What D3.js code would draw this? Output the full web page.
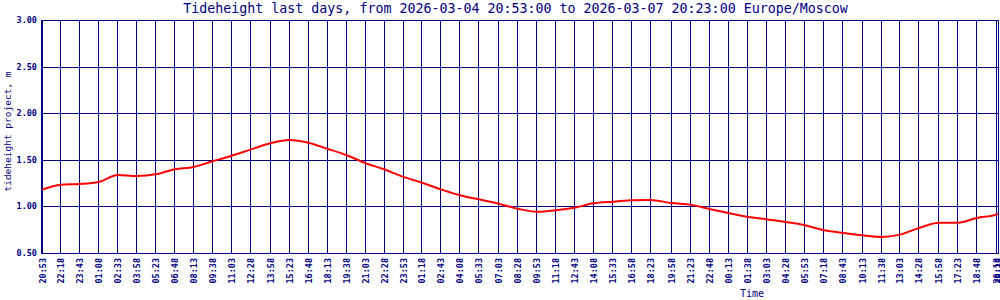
<!DOCTYPE html>
<html>
<head>
<meta charset="utf-8">
<script src="https://cdn.jsdelivr.net/npm/d3@7"></script>
<style>
  html, body { margin: 0; padding: 0; background: #fff; }
  svg { display: block; }
  text { font-family: "DejaVu Sans Mono", "Liberation Mono", monospace; fill: #000080; }
</style>
</head>
<body>
<svg id="chart" width="1000" height="300"></svg>
<script>
// ---- data ----
const titleText = "Tideheight last days, from 2026-03-04 20:53:00 to 2026-03-07 20:23:00 Europe/Moscow";
const yTitle = "tideheight project, m";
const xTitle = "Time";
const startDate = "2026-03-04";
const tickLabels = ["20:53","22:18","23:43","01:08","02:33","03:58","05:23","06:48","08:13","09:38",
  "11:03","12:28","13:58","15:23","16:48","18:13","19:38","21:03","22:28","23:53",
  "01:18","02:43","04:08","05:33","07:03","08:28","09:53","11:18","12:43","14:08",
  "15:33","16:58","18:23","19:58","21:23","22:48","00:13","01:38","03:03","04:28",
  "05:53","07:18","08:43","10:13","11:38","13:03","14:28","15:58","17:23","18:48",
  "20:18","20:23"];
const tideValues = [1.18,1.233,1.24,1.262,1.337,1.326,1.344,1.398,1.423,1.484,
  1.544,1.609,1.677,1.712,1.683,1.619,1.552,1.466,1.398,1.319,
  1.254,1.183,1.119,1.076,1.029,0.975,0.943,0.958,0.986,1.033,
  1.051,1.065,1.069,1.036,1.019,0.972,0.929,0.890,0.861,0.833,
  0.800,0.747,0.718,0.690,0.672,0.697,0.768,0.825,0.825,0.876,
  0.915,0.922];
const yTicks = [0.5, 1.0, 1.5, 2.0, 2.5, 3.0];

(function () {
// ---- build times from labels (day rolls over when the clock wraps) ----
const times = [];
{
  let day = new Date(startDate + "T00:00:00Z").getTime();
  let prev = -1;
  tickLabels.forEach(l => {
    const [h, m] = l.split(":").map(Number);
    const mins = h * 60 + m;
    if (mins < prev) day += 86400000;
    prev = mins;
    times.push(new Date(day + mins * 60000));
  });
}
const data = times.map((t, i) => ({ t, v: tideValues[i] }));

const svg = d3.select("#chart");
const navy = "#000080";
const mLeft = 42, mRight = 998, mTop = 20, mBottom = 253;

const x = d3.scaleUtc().domain([times[0], times[times.length - 1]]).range([mLeft, mRight]);
const y = d3.scaleLinear().domain([0.5, 3.0]).range([mBottom, mTop]);
const px = t => Math.floor(x(t) + 0.001) + 0.5;
const py = v => Math.round(y(v)) + 0.5;

// horizontal grid
svg.append("g").selectAll("line").data(yTicks).join("line")
  .attr("x1", mLeft).attr("x2", mRight + 1)
  .attr("y1", d => py(d)).attr("y2", d => py(d))
  .attr("stroke", navy).attr("stroke-width", 1);

// vertical grid
svg.append("g").selectAll("line").data(times).join("line")
  .attr("x1", d => px(d)).attr("x2", d => px(d))
  .attr("y1", mTop).attr("y2", mBottom + 1)
  .attr("stroke", navy).attr("stroke-width", 1);

// left axis (thicker)
svg.append("line").attr("x1", mLeft - 0.5).attr("x2", mLeft - 0.5)
  .attr("y1", mTop).attr("y2", mBottom + 1).attr("stroke", navy).attr("stroke-width", 1);

// y tick labels
svg.append("g").selectAll("text").data(yTicks).join("text")
  .attr("x", 37).attr("y", d => py(d))
  .attr("dy", "0.33em")
  .attr("text-anchor", "end")
  .attr("font-size", 8.5).attr("font-weight", "bold")
  .text(d => d3.format(".2f")(d));

// x tick labels
svg.append("g").selectAll("text").data(times).join("text")
  .attr("transform", (d) => `translate(${px(d) + 0.3},258) rotate(-90)`)
  .attr("dy", "0.33em")
  .attr("text-anchor", "end")
  .attr("font-size", 8.5).attr("font-weight", "bold")
  .text((d, i) => tickLabels[i]);

// line
const line = d3.line().x(d => x(d.t)).y(d => y(d.v)).curve(d3.curveMonotoneX);
svg.append("path").datum(data)
  .attr("d", line)
  .attr("fill", "none").attr("stroke", "#ff0000").attr("stroke-width", 2);

// titles
svg.append("text").attr("x", 515.5).attr("y", 13)
  .attr("text-anchor", "middle").attr("font-size", 13.3)
  .text(titleText);

svg.append("text")
  .attr("transform", "translate(11,131.5) rotate(-90)")
  .attr("text-anchor", "middle").attr("font-size", 9.5)
  .text(yTitle);

svg.append("text").attr("x", 740).attr("y", 297)
  .attr("font-size", 10)
  .text(xTitle);
})();
</script>
</body>
</html>
